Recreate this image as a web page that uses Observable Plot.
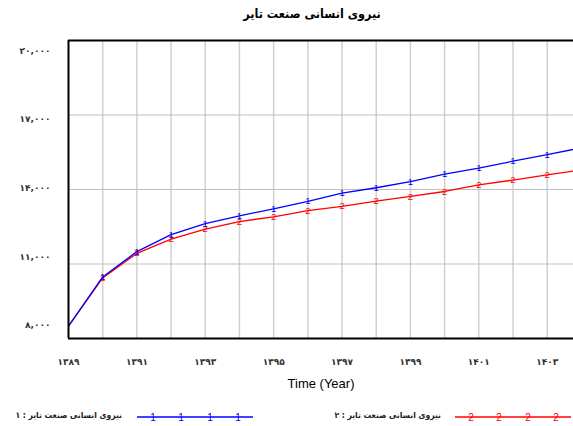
<!DOCTYPE html>
<html>
<head>
<meta charset="utf-8">
<script src="https://cdn.jsdelivr.net/npm/d3@7"></script>
<script src="https://cdn.jsdelivr.net/npm/@observablehq/plot@0.6"></script>
<style>
  html, body { margin: 0; padding: 0; background: #fff; }
  #wrap { position: relative; width: 573px; height: 426px; overflow: hidden; }
  #title { position: absolute; top: 6px; left: 51px; width: 522px; text-align: center;
           font-family: "DejaVu Sans Condensed", "DejaVu Sans", sans-serif; font-weight: bold; font-size: 12.5px; color: #000; direction: rtl; }
  #chart { position: absolute; top: 32px; left: 0; }
  .leg { position: absolute; top: 408px; height: 18px; }
  .legtext { position: absolute; top: 410px; font-family: "DejaVu Sans Condensed", "DejaVu Sans", sans-serif; font-weight: bold;
             font-size: 8.5px; color: #222; direction: rtl; text-align: right; white-space: nowrap; }
</style>
</head>
<body>
<div id="wrap">
  <div id="title"></div>
  <div id="chart"></div>
  <div class="legtext" id="lt1" style="right:451px;"></div>
  <svg class="leg" id="ls1" style="left:137px;" width="116" height="18"></svg>
  <div class="legtext" id="lt2" style="right:132px;"></div>
  <svg class="leg" id="ls2" style="left:455px;" width="116" height="18"></svg>
</div>
<script>
// ---- data ----
const titleText = "نیروی انسانی صنعت تایر";
const seriesNames = ["نیروی انسانی صنعت تایر : ۱", "نیروی انسانی صنعت تایر : ۲"];
const years = [1389, 1390, 1391, 1392, 1393, 1394, 1395, 1396, 1397, 1398, 1399, 1400, 1401, 1402, 1403, 1404];
const series1 = [8500, 10480, 11500, 12180, 12630, 12940, 13220, 13520, 13850, 14070, 14320, 14620, 14860, 15140, 15400, 15680];
const series2 = [8500, 10440, 11430, 12000, 12400, 12710, 12900, 13150, 13320, 13530, 13720, 13920, 14190, 14380, 14590, 14790];
const markerYears = [1390, 1391, 1392, 1393, 1394, 1395, 1396, 1397, 1398, 1399, 1400, 1401, 1402, 1403];
const xTicks = [1389, 1391, 1393, 1395, 1397, 1399, 1401, 1403];
const yTicks = [8000, 11000, 14000, 17000, 20000];
const xLabel = "Time (Year)";

const faDigits = "۰۱۲۳۴۵۶۷۸۹";
const toFa = s => String(s).replace(/\d/g, d => faDigits[+d]);
const fmtY = v => toFa(d3.format(",")(v));

const rows = years.map((y, i) => ({year: y, s1: series1[i], s2: series2[i]}));
const markRows = rows.filter(r => markerYears.includes(r.year));

document.getElementById("title").textContent = titleText;
document.getElementById("lt1").textContent = seriesNames[0];
document.getElementById("lt2").textContent = seriesNames[1];

// the source spreads its y labels evenly, slightly off the grid lines
const yLabelShift = [-13, -7, -1, 4, 11];
const yAxes = yTicks.map((t, i) =>
  Plot.axisY([t], {tickFormat: fmtY, tickSize: 0, tickPadding: 18, label: null, dy: yLabelShift[i]}));

const chart = Plot.plot({
  width: 573,
  height: 363,
  marginLeft: 68,
  marginRight: 0,
  marginTop: 8,
  marginBottom: 57,
  style: {fontFamily: "DejaVu Sans, sans-serif", fontSize: "9px", fontWeight: "bold", color: "#333", background: "#fff"},
  x: {domain: [1389, 1403.77]},
  y: {domain: [8000, 20000]},
  marks: [
    Plot.gridX(years.slice(1, 15), {stroke: "#d0d0d0", strokeOpacity: 1, strokeWidth: 1.5}),
    Plot.gridY(yTicks.slice(1, 4), {stroke: "#c0c0c0", strokeOpacity: 1, strokeWidth: 1.2}),
    Plot.axisX(xTicks, {tickFormat: toFa, tickSize: 0, tickPadding: 20, label: null}),
    Plot.axisX([], {label: xLabel, labelArrow: "none", labelAnchor: "center", labelOffset: 49, fontSize: 13, fontWeight: "normal", fontFamily: "Liberation Sans, Arial, sans-serif", color: "#000"}),
    ...yAxes,
    Plot.line(rows, {x: "year", y: "s2", stroke: "#ff0000", strokeWidth: 1.3, clip: true}),
    Plot.line(rows, {x: "year", y: "s1", stroke: "#0000ff", strokeWidth: 1.3, clip: true}),
    Plot.text(markRows, {x: "year", y: "s2", text: () => "2", fill: "#ff0000", fontSize: 9.5, fontWeight: "normal", fontFamily: "Liberation Sans, sans-serif"}),
    Plot.text(markRows, {x: "year", y: "s1", text: () => "1", fill: "#0000ff", fontSize: 9.5, fontWeight: "normal", fontFamily: "Liberation Sans, sans-serif"}),
    Plot.ruleX([1389], {stroke: "#000", strokeWidth: 2}),
    Plot.ruleY([8000, 20000], {stroke: "#000", strokeWidth: 2})
  ]
});
document.getElementById("chart").appendChild(chart);

// legend swatches
function swatch(id, color, label) {
  const svg = d3.select("#" + id);
  svg.append("line").attr("x1", 0).attr("x2", 116).attr("y1", 9).attr("y2", 9)
    .attr("stroke", color).attr("stroke-width", 1.3);
  [16, 44, 73, 101].forEach(x => {
    svg.append("text").attr("x", x).attr("y", 9).attr("dy", "0.35em").attr("text-anchor", "middle")
      .attr("fill", color).attr("font-family", "Liberation Sans, sans-serif").attr("font-size", 10).text(label);
  });
}
swatch("ls1", "#0000ff", "1");
swatch("ls2", "#ff0000", "2");
</script>
</body>
</html>
